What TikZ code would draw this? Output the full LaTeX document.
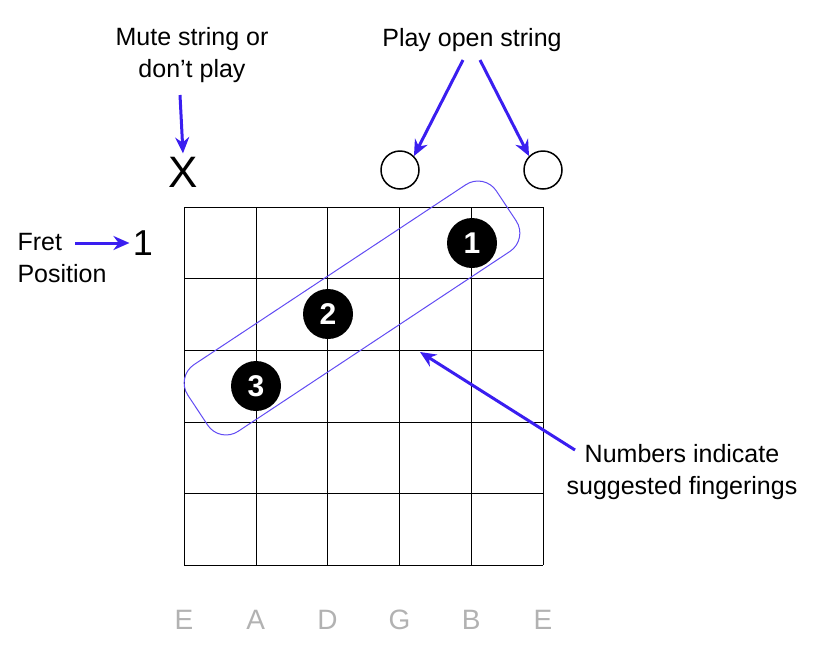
\documentclass[tikz,border=0pt]{standalone}
\usepackage{fontspec}
\setmainfont{Liberation Sans}
\usetikzlibrary{arrows.meta,positioning}
\definecolor{arrowblue}{HTML}{3A1EF0}
\tikzset{
  pointer/.style={draw=arrowblue,line width=3pt,-{Stealth[length=16pt,width=14pt]}},
  finger/.style={circle,fill=black,minimum size=50pt,inner sep=0pt,text=white,font=\fontsize{30}{32}\selectfont\bfseries},
  openstr/.style={circle,draw,line width=1.5pt,minimum size=38pt,inner sep=0pt},
  note/.style={font=\fontsize{25}{32}\selectfont,align=center},
  strname/.style={text=gray!60,font=\fontsize{28}{30}\selectfont}
}
\begin{document}
\begin{tikzpicture}[x=1pt,y=-1pt]
  \useasboundingbox (0,0) rectangle (833,654);
  % grid
  \foreach \i in {0,...,5} {
    \draw (184+71.8*\i,207) -- (184+71.8*\i,565);
    \draw (184,207+71.6*\i) -- (543,207+71.6*\i);
  }
  % string names
  \foreach \s [count=\i from 0] in {E,A,D,G,B,E}
    \node[strname] (name\i) at (184+71.8*\i,620) {\s};
  % fingering box
  \draw[arrowblue!80,line width=1pt,rotate around={33.5:(352,308)},rounded corners=22pt]
    (167,268) rectangle (537,348);
  % fingers
  \node[finger] (f1) at (472,243) {1};
  \node[finger] (f2) at (328,314) {2};
  \node[finger] (f3) at (256,386) {3};
  % open and muted strings
  \node[font=\fontsize{44}{44}\selectfont] (mute) at (183,172) {X};
  \node[openstr] (openG) at (400,170) {};
  \node[openstr] (openE) at (543,170) {};
  % labels
  \node[note] (mutelbl) at (192,55) {Mute string or\\don't play};
  \node[note] (openlbl) at (472,40) {Play open string};
  \node[note,align=left,anchor=west] (fretlbl) at (14,258) {Fret\\Position};
  \node[font=\fontsize{36}{36}\selectfont] (fretnum) at (143,243) {1};
  \node[note] (numlbl) at (682,472) {Numbers indicate\\suggested fingerings};
  \coordinate (fretarr) at (75,243);
  \coordinate (gridpt) at (420,352);
  % pointers
  \draw[pointer] (180,95) -- (mute.north);
  \draw[pointer] (463,60) -- (openG.north east);
  \draw[pointer] (480,60) -- (openE.north west);
  \draw[pointer] (fretarr) -- (fretnum.west);
  \draw[pointer] (575,450) -- (gridpt);
\end{tikzpicture}
\end{document}
